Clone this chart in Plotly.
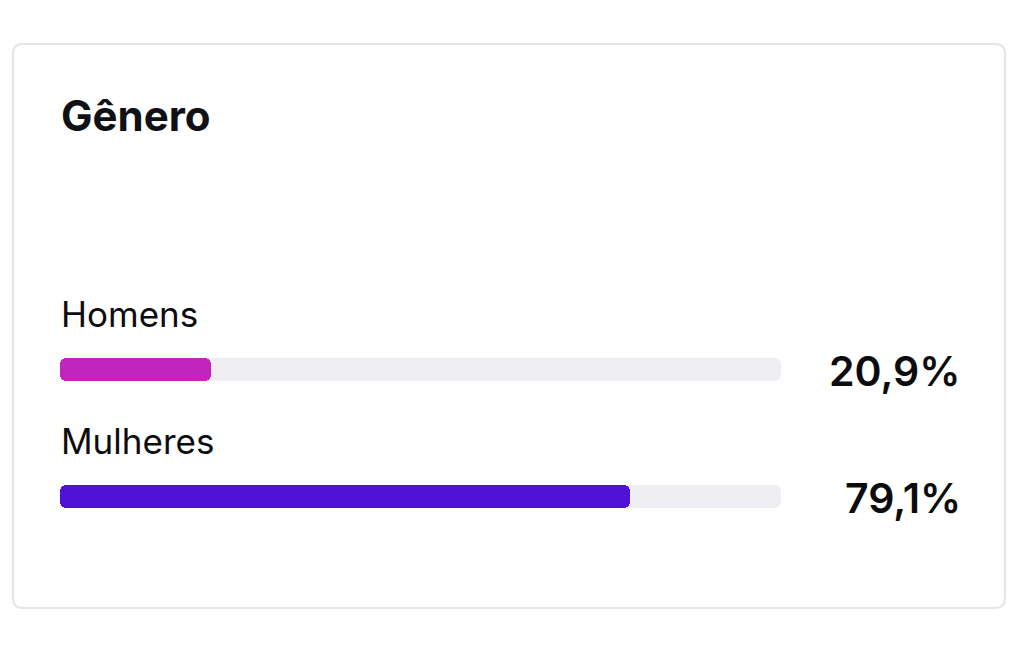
import plotly.graph_objects as go

# ---- data ----
categories = ["Homens", "Mulheres"]
shares = [20.9, 79.1]
share_labels = ["20,9%", "79,1%"]
bar_colors = ["#c026bf", "#4f12d6"]
track_total = [100, 100]
title_text = "Gênero"

OFF = 8                  # page body margin
W, H = 1019 - OFF, 645 - OFF
L, R = 60 - OFF, 781 - OFF     # plot area in figure pixels (x)
T, B = 306 - OFF, 560 - OFF    # plot area in figure pixels (y)

def px_x(p):
    return (p - OFF - L) / (R - L)

def px_y(p):
    return (B - (p - OFF)) / (B - T)

yvals = [1, 0]  # Homens on top
BW = 0.181
CR = 6

def pill_bars(values, color):
    """Rounded bar: two rounded halves plus an unrounded middle covering the seam."""
    halves = [v / 2 for v in values]
    out = []
    for sign in (-1, 1):
        out.append(go.Bar(
            x=[sign * h for h in halves], base=halves, y=yvals, orientation="h",
            width=BW, marker=dict(color=color, line=dict(width=0), cornerradius=CR),
            hoverinfo="skip", showlegend=False,
        ))
    out.append(go.Bar(
        x=halves, base=[v / 4 for v in values], y=yvals, orientation="h",
        width=BW, marker=dict(color=color, line=dict(width=0), cornerradius=0),
        hoverinfo="skip", showlegend=False,
    ))
    return out

fig = go.Figure()
for tr in pill_bars(track_total, "#efeff3"):
    fig.add_trace(tr)
for tr in pill_bars(shares, bar_colors):
    fig.add_trace(tr)

# card outline with rounded corners (paper coords)
x0, x1, y0, y1, r = 13, 1005, 44, 608, 10
def P(x, y):
    return f"{px_x(x):.5f},{px_y(y):.5f}"
path = (f"M {P(x0 + r, y0)} L {P(x1 - r, y0)} Q {P(x1, y0)} {P(x1, y0 + r)} "
        f"L {P(x1, y1 - r)} Q {P(x1, y1)} {P(x1 - r, y1)} "
        f"L {P(x0 + r, y1)} Q {P(x0, y1)} {P(x0, y1 - r)} "
        f"L {P(x0, y0 + r)} Q {P(x0, y0)} {P(x0 + r, y0)} Z")
fig.add_shape(type="path", path=path, xref="paper", yref="paper",
              line=dict(color="#e6e6e9", width=2), fillcolor="rgba(0,0,0,0)", layer="below")

font_family = "Inter, 'Noto Sans', Arial, sans-serif"
annotations = []
for cat, yv, lab in zip(categories, yvals, share_labels):
    annotations.append(dict(
        text=cat, x=0, xref="x", y=yv, yref="y", xanchor="left", yanchor="middle",
        xshift=-1, yshift=56, showarrow=False,
        font=dict(family=font_family, size=35, color="#0c0c0e"),
    ))
    annotations.append(dict(
        text=lab, x=px_x(963), xref="paper", y=yv, yref="y",
        xanchor="right", yanchor="middle", yshift=-1, showarrow=False,
        font=dict(family=font_family, size=41, color="#0c0c0e", weight=600),
    ))

fig.update_layout(
    width=W, height=H,
    margin=dict(l=L, r=W - R, t=T, b=H - B, pad=0),
    paper_bgcolor="white", plot_bgcolor="white",
    barmode="overlay", bargap=0,
    title=dict(text=f"<b>{title_text}</b>", x=(61 - OFF) / W, xanchor="left", xref="container",
               y=1 - (116 - OFF) / H, yanchor="middle", yref="container",
               font=dict(family=font_family, size=42, color="#0f1115")),
    xaxis=dict(range=[0, 100], visible=False, fixedrange=True),
    yaxis=dict(range=[-0.5, 1.5], visible=False, fixedrange=True),
    annotations=annotations,
    showlegend=False,
)
fig.write_html("out.html", config={"displayModeBar": False})
